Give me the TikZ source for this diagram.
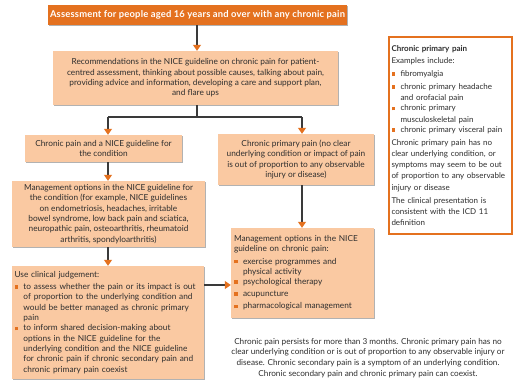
\documentclass[tikz,border=0pt]{standalone}
\usepackage{fontspec}
\setmainfont{Lato}
\usetikzlibrary{arrows.meta,shadows}
\definecolor{dorange}{HTML}{E4711F}
\definecolor{peach}{HTML}{FAC9A2}
\definecolor{lineg}{HTML}{3A3A3A}
\definecolor{txt}{HTML}{2E2E2E}
\newcommand\obul{\raisebox{0.6pt}{\textcolor{dorange}{\rule{3.8pt}{3.8pt}}}}
\newcommand\bitem[1]{\par\vspace{1.8pt}\noindent\makebox[9pt][l]{\obul}\parbox[t]{\dimexpr\linewidth-9pt\relax}{\raggedright #1}\par}
\begin{document}
\begin{tikzpicture}[x=1pt,y=-1pt,
  font=\fontsize{8.3}{10.3}\selectfont, text=txt,
  pbox/.style={fill=peach, inner sep=3pt,
    drop shadow={shadow xshift=1.3pt, shadow yshift=-1.3pt, opacity=0.3, fill=black}},
  arr/.style={draw=lineg, line width=1.1pt, -{Triangle[length=6pt,width=8pt,color=dorange,fill=dorange]}},
  ln/.style={draw=lineg, line width=1.1pt}]
\fill[white] (0,0) rectangle (513,383);
\useasboundingbox (0,0) rectangle (513,383);

\node[fill=dorange, text=white, font=\fontsize{9.4}{10.3}\selectfont\bfseries\addfontfeature{LetterSpace=2},
  minimum width=285pt, minimum height=20pt, inner sep=2pt,
  drop shadow={shadow xshift=1.3pt, shadow yshift=-1.3pt, opacity=0.3, fill=black}]
  (top) at (197.5,15) {Assessment for people aged 16 years and over with any chronic pain};

\node[pbox, minimum width=285pt, minimum height=54pt, align=center]
  (rec) at (195.5,78) {Recommendations in the NICE guideline on chronic pain for patient-\\centred assessment, thinking about possible causes, talking about pain,\\providing advice and information, developing a care and support plan,\\and flare ups};

\node[pbox, minimum width=157pt, minimum height=27pt, align=center]
  (cp) at (103.5,148.5) {Chronic pain and a NICE guideline for\\the condition};

\node[pbox, minimum width=193pt, minimum height=66pt, align=center]
  (mo) at (108.5,214) {Management options in the NICE guideline for\\the condition (for example, NICE guidelines\\on endometriosis, headaches, irritable\\bowel syndrome, low back pain and sciatica,\\neuropathic pain, osteoarthritis, rheumatoid\\arthritis, spondyloarthritis)};

\node[pbox, minimum width=192pt, minimum height=113pt, text width=187pt, inner sep=2.5pt, align=left]
  (uj) at (108,322.5) {Use clinical judgement:
  \bitem{to assess whether the pain or its impact is out\\of proportion to the underlying condition and\\would be better managed as chronic primary\\pain}
  \bitem{to inform shared decision-making about\\options in the NICE guideline for the\\underlying condition and the NICE guideline\\for chronic pain if chronic secondary pain and\\chronic primary pain coexist}};

\node[pbox, minimum width=156pt, minimum height=51pt, align=center]
  (cpp) at (296,159.5) {Chronic primary pain (no clear\\underlying condition or impact of pain\\is out of proportion to any observable\\injury or disease)};

\node[pbox, minimum width=143pt, minimum height=90pt, text width=137pt, align=left]
  (mcp) at (302.5,273) {Management options in the NICE\\guideline on chronic pain:
  \bitem{exercise programmes and\\physical activity}
  \bitem{psychological therapy}
  \bitem{acupuncture}
  \bitem{pharmacological management}};

\node[draw=dorange, line width=1.3pt, fill=white, minimum width=123pt, minimum height=197pt,
  text width=118pt, inner sep=2.5pt, align=left, font=\fontsize{8}{11.2}\selectfont]
  (side) at (450.5,135.5) {\textbf{Chronic primary pain}\\[1pt]Examples include:
  \bitem{fibromyalgia}
  \bitem{chronic primary headache\\and orofacial pain}
  \bitem{chronic primary\\musculoskeletal pain}
  \bitem{chronic primary visceral pain}
  \par\vspace{1.8pt}\noindent Chronic primary pain has no\\clear underlying condition, or\\symptoms may seem to be out\\of proportion to any observable\\injury or disease
  \par\vspace{1.8pt}\noindent The clinical presentation is\\consistent with the ICD 11\\definition};

\node[align=center, inner sep=0pt, font=\fontsize{8.2}{10.7}\selectfont] (note) at (368,358)
  {Chronic pain persists for more than 3 months. Chronic primary pain has no\\clear underlying condition or is out of proportion to any observable injury or\\disease. Chronic secondary pain is a symptom of an underlying condition.\\Chronic secondary pain and chronic primary pain can coexist.};

\coordinate (jc) at (197,117);
\coordinate (jl) at (108,117);
\coordinate (jr) at (302,117);
\draw[arr] (top.south -| jc) -- (rec.north -| jc);
\draw[ln] (rec.south -| jc) -- (jc);
\draw[ln] (jl) -- (jr);
\draw[arr] (jl) -- (cp.north -| jl);
\draw[arr] (jr) -- (cpp.north -| jr);
\draw[arr] (cp.south -| jl) -- (mo.north -| jl);
\draw[arr] (mo.south -| jl) -- (uj.north -| jl);
\draw[arr] (cpp.south -| jr) -- (mcp.north -| jr);
\coordinate (ua) at (197,285);
\draw[arr] (uj.east |- ua) -- (mcp.west |- ua);
\end{tikzpicture}
\end{document}
